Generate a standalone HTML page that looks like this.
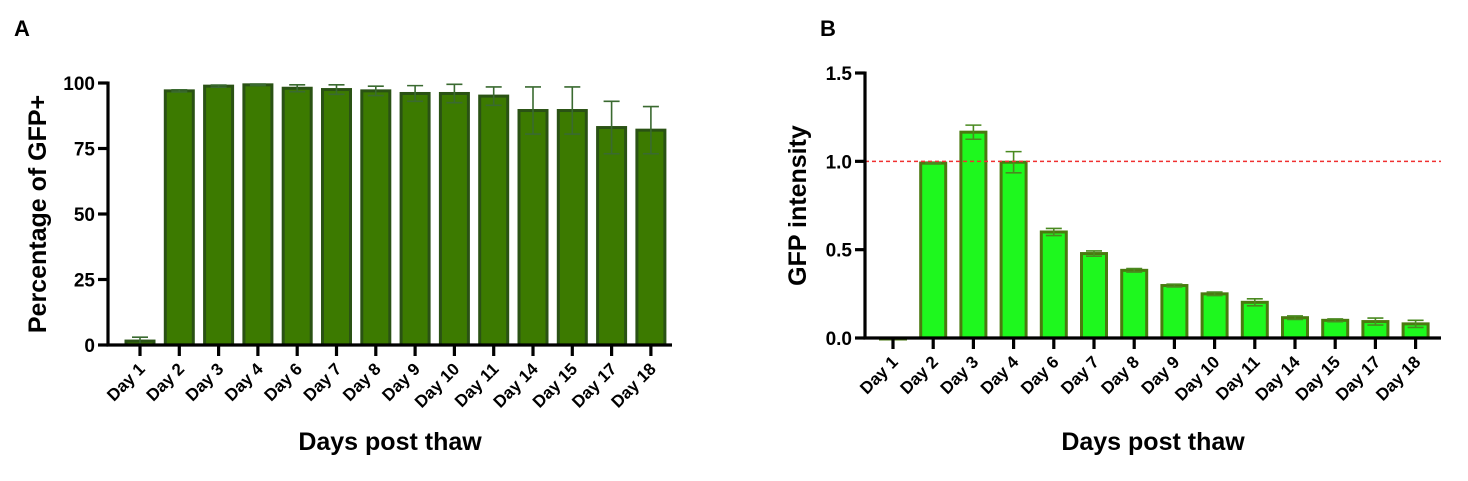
<!DOCTYPE html>
<html><head><meta charset="utf-8"><style>
html,body{margin:0;padding:0;background:#fff;}
svg text{font-family:"Liberation Sans",Arial,sans-serif;font-weight:bold;}
</style></head><body>
<svg id="s" width="1468" height="476" xmlns="http://www.w3.org/2000/svg">
<text x="14" y="36" font-size="22">A</text>
<text x="820" y="36" font-size="22">B</text>
</svg>
<script>
const categories=["Day 1","Day 2","Day 3","Day 4","Day 6","Day 7","Day 8","Day 9","Day 10","Day 11","Day 14","Day 15","Day 17","Day 18"];
const pctValues=[1.5,97,98.8,99.3,98,97.5,97,96,96,95,89.5,89.5,83,82];
const pctErrors=[1.5,0.4,0.4,0.3,1.3,1.8,1.8,3,3.5,3.5,9,9,10,9];
const pctTicks=[0,25,50,75,100];
const gfpValues=[0,0.99,1.165,0.995,0.6,0.478,0.383,0.297,0.25,0.202,0.115,0.1,0.093,0.08];
const gfpErrors=[0,0.005,0.04,0.06,0.02,0.015,0.01,0.008,0.01,0.02,0.01,0.008,0.02,0.02];
const gfpTicks=[0,0.5,1.0,1.5];
const gfpRef=[1.0];
const NS="http://www.w3.org/2000/svg",svg=document.getElementById('s');
function mk(t,a,p){const e=document.createElementNS(NS,t);for(const k in a)e.setAttribute(k,a[k]);(p||svg).appendChild(e);return e;}
function panel(o){
  const g=mk('g',{});
  
  
  const y=v=>o.y0+(v-o.ymin)/(o.ymax-o.ymin)*(o.y1-o.y0);
  const x=i=>o.x0c+i*o.step;
  categories.forEach((c,i)=>{
    const v=o.vals[i],e=o.errs[i],cx=x(i),hw=o.bw/2;
    const top=y(v),bot=y(0);
    const r=mk('rect',{x:cx-hw,y:top,width:o.bw,height:Math.max(bot-top,1),fill:o.fill,stroke:o.stroke,'stroke-width':3},g);
    
    
    if(e>0){
      const eb=mk('path',{d:`M${cx} ${y(v-e)}V${y(v+e)}M${cx-8} ${y(v+e)}H${cx+8}M${cx-8} ${y(v-e)}H${cx+8}`,stroke:o.estroke,'stroke-width':1.6,fill:'none'},g);
      
      
    }
    mk('line',{x1:cx,x2:cx,y1:o.y0,y2:o.y0+11,stroke:'#000','stroke-width':3.2},g);
    const t=mk('text',{x:cx+6,y:o.y0+25,'font-size':17,'text-anchor':'end',transform:`rotate(-45 ${cx+6} ${o.y0+25})`},g);
    t.textContent=c;
    
    
  });
  if(o.ref){o.ref.forEach(rv=>{
    const l=mk('line',{x1:o.ax,x2:o.xend,y1:y(rv),y2:y(rv),stroke:'#f03030','stroke-width':1.5,'stroke-dasharray':'4 3'},g);
    
    
  });}
  const ax=mk('path',{d:`M${o.ax} ${o.y1-1.5}V${o.y0}H${o.xend}`,stroke:'#000','stroke-width':3.2,fill:'none'},g);
  
  
  o.ticks.forEach(tv=>{
    mk('line',{x1:o.ax-10,x2:o.ax,y1:y(tv),y2:y(tv),stroke:'#000','stroke-width':3.2},g);
    const t=mk('text',{x:o.ax-13,y:y(tv)+7,'font-size':19,'text-anchor':'end'},g);
    t.textContent=o.fmt(tv);
    
    
  });
  const yt=mk('text',{x:0,y:0,'font-size':25,'text-anchor':'middle',transform:`translate(${o.ytx} ${(o.y0+o.y1)/2}) rotate(-90)`},g);
  yt.textContent=o.ytitle;
  
  
  const xt=mk('text',{x:(o.ax+o.xend)/2,y:450,'font-size':25,'text-anchor':'middle'},g);
  xt.textContent='Days post thaw';
  
  
}
panel({name:'panel-a-chart',vals:pctValues,errs:pctErrors,ticks:pctTicks,ymin:0,ymax:100,y0:345,y1:83,ax:108,xend:672,x0c:140,step:39.3,bw:28,fill:'#3c7a00',stroke:'#2a5214',estroke:'#3a6a30',fmt:v=>String(v),ytitle:'Percentage of GFP+',ytx:46,});
panel({name:'panel-b-chart',vals:gfpValues,errs:gfpErrors,ticks:gfpTicks,ymin:0,ymax:1.5,y0:338,y1:73,ax:865,xend:1441,x0c:893,step:40.2,bw:25,fill:'#1ef81e',stroke:'#4a7a10',estroke:'#4a8a20',fmt:v=>v.toFixed(1),ytitle:'GFP intensity',ytx:806,ref:gfpRef});
</script>
</body></html>
